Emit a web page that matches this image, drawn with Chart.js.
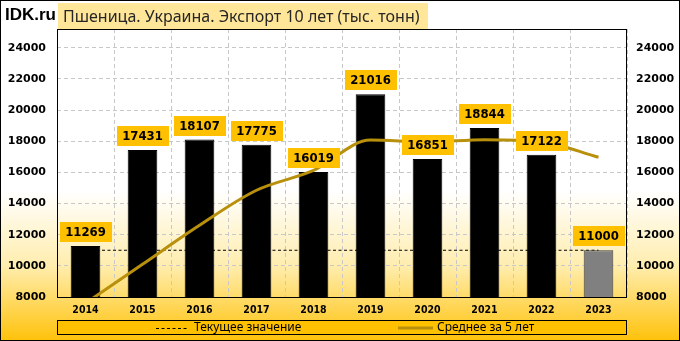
<!DOCTYPE html>
<html><head><meta charset="utf-8">
<script src="https://cdn.jsdelivr.net/npm/chart.js@4.4.1/dist/chart.umd.min.js"></script>
<style>html,body{margin:0;padding:0;background:#fff}#c{display:block}</style>
</head><body>
<canvas id="c" width="680" height="341"></canvas>
<script>
const years = ['2014','2015','2016','2017','2018','2019','2020','2021','2022','2023'];
const exportValues = [11269,17431,18107,17775,16019,21016,16851,18844,17122,11000];
const avg5 = [7600,10100,12600,14850,16120,18070,17950,18100,17970,16970];
const currentValue = [11000,11000,11000,11000,11000,11000,11000,11000,11000,11000];
const yTicks = [8000,10000,12000,14000,16000,18000,20000,22000,24000];
const brand = 'IDK.ru';
const titleText = 'Пшеница. Украина. Экспорт 10 лет (тыс. тонн)';
const legendCurrent = 'Текущее значение';
const legendAvg = 'Среднее за 5 лет';

const GOLD = '#FFC000';
const LINE_GOLD = '#B8900B';
const COND = '"DejaVu Sans Condensed", "DejaVu Sans"';

const bgPlugin = {
  id: 'bg',
  beforeDraw(chart) {
    const ctx = chart.ctx, W = chart.width, H = chart.height;
    const g = ctx.createLinearGradient(0, 0, 0, H);
    g.addColorStop(0, '#FFFFFF');
    g.addColorStop(0.56, '#FFFFFF');
    g.addColorStop(0.78, '#FFEDAE');
    g.addColorStop(1, '#FFC20A');
    ctx.save();
    ctx.fillStyle = g;
    ctx.fillRect(0, 0, W, H);
    ctx.restore();
  }
};

const overlayPlugin = {
  id: 'overlay',
  afterDatasetsDraw(chart) {
    const ctx = chart.ctx, a = chart.chartArea;
    ctx.save();
    ctx.strokeStyle = '#000';
    ctx.lineWidth = 1;
    ctx.strokeRect(Math.round(a.left) + 0.5, Math.round(a.top) + 0.5, Math.round(a.right - a.left) - 1, Math.round(a.bottom - a.top));
    const meta = chart.getDatasetMeta(1);
    ctx.font = 'bold 13px ' + COND;
    ctx.textAlign = 'center';
    ctx.textBaseline = 'middle';
    meta.data.forEach((bar, i) => {
      const txt = String(exportValues[i]);
      const w = Math.round(ctx.measureText(txt).width + 11);
      const h = 20;
      const x = Math.round(bar.x - w / 2), y = Math.round(bar.y - 4 - h);
      ctx.fillStyle = GOLD;
      ctx.fillRect(x, y, w, h);
      ctx.fillStyle = '#000';
      ctx.fillText(txt, bar.x, y + h / 2 + 1);
    });
    ctx.restore();
  },
  afterDraw(chart) {
    const ctx = chart.ctx, a = chart.chartArea, W = chart.width, H = chart.height;
    ctx.save();
    ctx.fillStyle = '#000';
    ctx.font = 'bold 17px "Liberation Sans"';
    ctx.textAlign = 'left';
    ctx.textBaseline = 'alphabetic';
    ctx.fillText(brand, 5, 20);
    ctx.fillStyle = '#FFE699';
    ctx.fillRect(58, 3, 370, 26);
    ctx.fillStyle = '#262626';
    ctx.font = '16px "Noto Sans"';
    ctx.textBaseline = 'middle';
    ctx.fillText(titleText, 63, 17);
    const lx = Math.round(a.left), lr = Math.round(a.right);
    ctx.fillStyle = GOLD;
    ctx.fillRect(lx, 320, lr - lx, 15);
    ctx.strokeStyle = '#000';
    ctx.lineWidth = 1;
    ctx.strokeRect(lx + 0.5, 320.5, lr - lx - 1, 14);
    const ly = 328;
    ctx.setLineDash([3, 2.5]);
    ctx.beginPath(); ctx.moveTo(156, ly + 0.5); ctx.lineTo(188, ly + 0.5); ctx.stroke();
    ctx.setLineDash([]);
    ctx.fillStyle = '#000';
    ctx.font = '12px "Noto Sans"';
    ctx.textBaseline = 'middle';
    ctx.fillText(legendCurrent, 194, ly);
    ctx.strokeStyle = LINE_GOLD;
    ctx.lineWidth = 3;
    ctx.beginPath(); ctx.moveTo(398, ly); ctx.lineTo(433, ly); ctx.stroke();
    ctx.fillText(legendAvg, 437, ly);
    ctx.strokeStyle = '#000';
    ctx.lineWidth = 1;
    ctx.strokeRect(0.5, 0.5, W - 1, H - 1);
    ctx.restore();
  }
};

const setTicks = (scale) => { scale.ticks = yTicks.map(v => ({ value: v })); };
const plain = (v) => String(v);

new Chart(document.getElementById('c'), {
  type: 'bar',
  data: {
    labels: years,
    datasets: [
      {
        type: 'line', label: legendAvg, data: avg5, order: 0,
        borderColor: LINE_GOLD, borderWidth: 3, pointRadius: 0,
        cubicInterpolationMode: 'monotone', fill: false, yAxisID: 'y'
      },
      {
        type: 'bar', label: 'Экспорт', data: exportValues, order: 1,
        backgroundColor: exportValues.map((v, i) => i === exportValues.length - 1 ? '#808080' : '#000000'),
        borderColor: exportValues.map((v, i) => i === exportValues.length - 1 ? '#3a3a3a' : '#000000'),
        borderWidth: 1, borderSkipped: false,
        barPercentage: 0.52, categoryPercentage: 1, yAxisID: 'y'
      },
      {
        type: 'line', label: legendCurrent, data: currentValue, order: 2,
        borderColor: '#000', borderWidth: 1, borderDash: [3, 2.5], pointRadius: 0,
        fill: false, yAxisID: 'y'
      }
    ]
  },
  options: {
    responsive: false,
    animation: false,
    events: [],
    layout: { padding: { top: 29, left: 0, right: 0, bottom: 0 } },
    plugins: { legend: { display: false }, tooltip: { enabled: false }, title: { display: false } },
    scales: {
      x: {
        offset: true,
        grid: { color: '#C8C8C8', lineWidth: 1, drawTicks: false, offset: true },
        border: { display: false, dash: [4, 3] },
        ticks: { color: '#000', font: { family: 'DejaVu Sans Condensed', weight: 'bold', size: 10.5 }, padding: 7, maxRotation: 0 },
        afterFit(s) { s.height = 44; }
      },
      y: {
        position: 'left', min: 8000, max: 25200,
        grid: { color: '#C8C8C8', lineWidth: 1, drawTicks: false },
        border: { display: false, dash: [4, 3] },
        ticks: { color: '#000', font: { family: 'DejaVu Sans', weight: 'bold', size: 11 }, padding: 11, callback: plain },
        afterBuildTicks: setTicks,
        afterFit(s) { s.width = 57; }
      },
      y2: {
        position: 'right', min: 8000, max: 25200,
        grid: { display: false, drawTicks: false },
        border: { display: false },
        ticks: { color: '#000', font: { family: 'DejaVu Sans', weight: 'bold', size: 11 }, padding: 9, callback: plain },
        afterBuildTicks: setTicks,
        afterFit(s) { s.width = 53; }
      }
    }
  },
  plugins: [bgPlugin, overlayPlugin]
});
</script>
</body></html>
